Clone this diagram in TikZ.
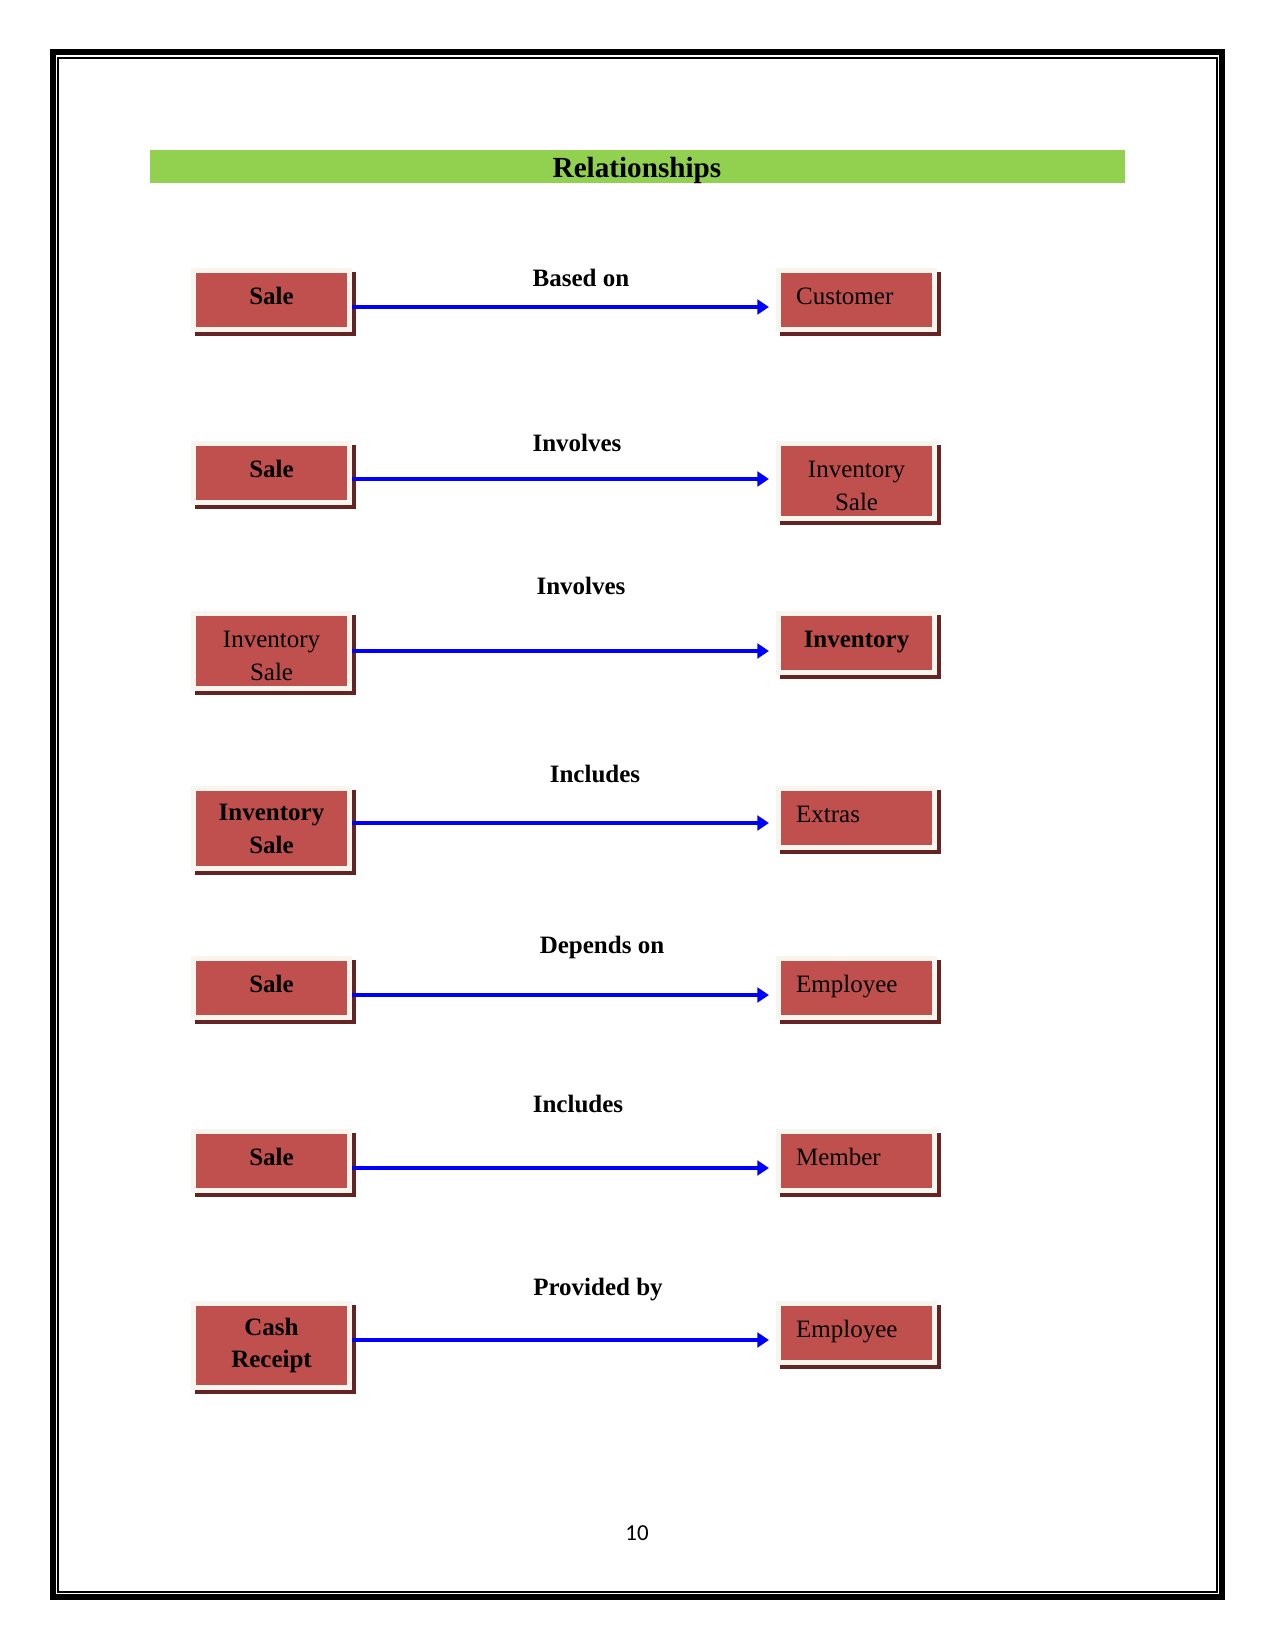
\documentclass[tikz,border=0pt]{standalone}
\usepackage{fontspec}
\setmainfont{Liberation Serif}
\newfontfamily\numfont{Carlito}
\usetikzlibrary{positioning, arrows.meta}
\definecolor{boxred}{RGB}{192,80,77}
\definecolor{boxframe}{RGB}{248,244,238}
\definecolor{boxshadow}{RGB}{99,36,35}
\definecolor{bargreen}{RGB}{146,208,80}
\tikzset{
  entity/.style  = {rectangle, draw=boxframe, line width=2.4pt, fill=boxred,
                    minimum width=74.9pt, minimum height=28.3pt, inner sep=0pt,
                    anchor=north west, align=center, font=\fontsize{12}{15.8}\selectfont,
                    preaction={fill=boxshadow, draw=boxshadow,
                               transform canvas={shift={(1.9pt,-1.9pt)}}}},
  oneline/.style = {text depth=4pt},
  named/.style   = {entity, font=\fontsize{12}{15.8}\selectfont\bfseries},
  attr/.style    = {entity, oneline, text width=58pt, align=left},
  relname/.style = {font=\fontsize{12}{14}\selectfont\bfseries},
  link/.style    = {-{Triangle[length=5.5pt, width=7pt]}, draw=blue, line width=1.9pt, shorten >=3.4pt}
}
\begin{document}
\begin{tikzpicture}[x=0.48pt, y=-0.48pt]
        \useasboundingbox (0,0) rectangle (1275,1650);
        % page border
        \draw[line width=2.88pt] (53,52.5) rectangle (1222,1597);
        \draw[line width=0.7pt] (58,58) rectangle (1217,1592);
        % heading
        \fill[bargreen] (150,150) rectangle (1125,183);
        \node[font=\fontsize{14}{16}\selectfont\bfseries] (title) at (637,170) {Relationships};
        % entities
        \node[named, oneline] (sale1) at (191,268) {Sale};
        \node[attr]  (cust)  at (776,268) {Customer};
        \node[named, oneline] (sale2) at (191,441) {Sale};
        \node[entity, minimum height=36pt, text height=28pt] (invsale1) at (776,441) {Inventory\\Sale};
        \node[entity, minimum height=36pt, text height=28pt] (invsale2) at (191,611) {Inventory\\Sale};
        \node[named, oneline] (inv)   at (776,611) {Inventory};
        \node[named, minimum height=38.4pt] (invsale3) at (191,786) {Inventory\\Sale};
        \node[attr]  (extras) at (776,786) {Extras};
        \node[named, oneline] (sale3) at (191,956) {Sale};
        \node[attr]  (emp1)  at (776,956) {Employee};
        \node[named, oneline] (sale4) at (191,1129) {Sale};
        \node[attr]  (member) at (776,1129) {Member};
        \node[named, minimum height=40.3pt] (cash) at (191,1301) {Cash\\Receipt};
        \node[attr]  (emp2)  at (776,1301) {Employee};
        % relationships
        \draw[link] (sale1.east |- 0,307) -- (cust.west |- 0,307);
        \draw[link] (sale2.east |- 0,479) -- (invsale1.west |- 0,479);
        \draw[link] (invsale2.east |- 0,651) -- (inv.west |- 0,651);
        \draw[link] (invsale3.east |- 0,823) -- (extras.west |- 0,823);
        \draw[link] (sale3.east |- 0,995) -- (emp1.west |- 0,995);
        \draw[link] (sale4.east |- 0,1168) -- (member.west |- 0,1168);
        \draw[link] (cash.east |- 0,1340) -- (emp2.west |- 0,1340);
        \node[relname] (rel1) at (581,278)  {Based on};
        \node[relname] (rel2) at (577,443)  {Involves};
        \node[relname] (rel3) at (581,586)  {Involves};
        \node[relname] (rel4) at (595,774)  {Includes};
        \node[relname] (rel5) at (602,947)  {Depends on};
        \node[relname] (rel6) at (578,1104) {Includes};
        \node[relname] (rel7) at (598,1290) {Provided by};
        % page number
        \node[font=\numfont\fontsize{11}{13}\selectfont] (pagenum) at (637,1533) {10};
      \end{tikzpicture}
\end{document}
